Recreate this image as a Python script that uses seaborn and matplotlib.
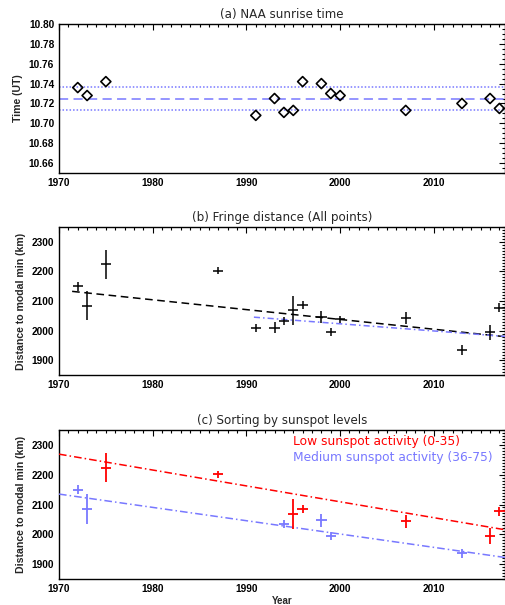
import matplotlib
matplotlib.use("Agg")
import matplotlib.pyplot as plt
from matplotlib.ticker import MultipleLocator
import seaborn as sns
import pandas as pd

# ---------------- data ----------------
years_a = [1972, 1973, 1975, 1991, 1993, 1994, 1995, 1996, 1998, 1999, 2000, 2007, 2013, 2016, 2017]
time_a = [10.736, 10.728, 10.742, 10.708, 10.725, 10.711, 10.713, 10.742, 10.740, 10.730, 10.728,
          10.713, 10.720, 10.725, 10.715]
naa_mean = 10.725
naa_upper = 10.737
naa_lower = 10.713

years_b = [1972, 1973, 1975, 1987, 1991, 1993, 1994, 1995, 1996, 1998, 1999, 2000, 2007, 2013, 2016, 2017]
dist_b = [2150, 2085, 2224, 2202, 2010, 2011, 2034, 2069, 2086, 2047, 1995, 2039, 2043, 1936, 1995, 2078]
err_b = [15, 50, 48, 12, 14, 20, 13, 50, 14, 21, 13, 11, 21, 16, 26, 15]

fit_all_years = [1971.4, 2017.65]
fit_all_vals = [2133, 1980]
fit_recent_years = [1990.8, 2017.65]
fit_recent_vals = [2046, 1981]

years_low = [1975, 1987, 1995, 1996, 2007, 2016, 2017]
dist_low = [2224, 2202, 2069, 2086, 2043, 1995, 2078]
err_low = [48, 12, 50, 14, 21, 26, 15]

years_med = [1972, 1973, 1994, 1998, 1999, 2013]
dist_med = [2150, 2085, 2034, 2047, 1995, 1936]
err_med = [15, 50, 13, 21, 13, 16]

fit_low_years = [1970, 2017.65]
fit_low_vals = [2269, 2015]
fit_med_years = [1970, 2017.65]
fit_med_vals = [2135, 1922]

xticks = [1970, 1980, 1990, 2000, 2010]
label_low = "Low sunspot activity (0-35)"
label_med = "Medium sunspot activity (36-75)"

# ---------------- style ----------------
sns.set_style("white")
plt.rcParams["font.family"] = ["Liberation Sans", "DejaVu Sans"]

RED = "#ff0000"
BLUE = "#7878ff"

fig = plt.figure(figsize=(5.06, 6.05), dpi=100)
W, H = 506.0, 605.0
left = 59 / W
width = 446.5 / W


def mk_axes(top, bottom):
    return fig.add_axes([left, (H - bottom) / H, width, (bottom - top) / H])


ax_a = mk_axes(24, 173)
ax_b = mk_axes(227, 375.3)
ax_c = mk_axes(430, 579)


def style_axes(ax, title):
    ax.set_xlim(1970, 2017.65)
    ax.set_xticks(xticks)
    ax.xaxis.set_minor_locator(MultipleLocator(1))
    ax.tick_params(which="both", direction="in", top=True, right=True,
                   labelsize=7.3, width=0.8, colors="black", pad=3.5)
    ax.tick_params(which="major", length=4)
    ax.tick_params(which="minor", length=2)
    for lab in ax.get_xticklabels() + ax.get_yticklabels():
        lab.set_fontweight("bold")
    for sp in ax.spines.values():
        sp.set_linewidth(1.0)
        sp.set_color("black")
        sp.set_visible(True)
    ax.set_title(title, fontsize=8.6, family="DejaVu Sans", pad=4)
    ax.grid(False)


# ---- panel a ----
df_a = pd.DataFrame({"year": years_a, "time": time_a})
ax_a.axhline(naa_mean, color=BLUE, lw=1.1, dashes=(6, 3.5))
ax_a.axhline(naa_upper, color=BLUE, lw=1.1, dashes=(1, 1.3))
ax_a.axhline(naa_lower, color=BLUE, lw=1.1, dashes=(1, 1.3))
sns.scatterplot(data=df_a, x="year", y="time", ax=ax_a, marker="D", s=26,
                facecolor="none", edgecolor="black", linewidth=1.2, zorder=5)
ax_a.set_ylim(10.65, 10.80)
ax_a.set_yticks([10.66, 10.68, 10.70, 10.72, 10.74, 10.76, 10.78, 10.80])
ax_a.set_yticklabels([f"{v:.2f}" for v in [10.66, 10.68, 10.70, 10.72, 10.74, 10.76, 10.78, 10.80]])
ax_a.yaxis.set_minor_locator(MultipleLocator(0.005))
ax_a.set_xlabel("")
ax_a.set_ylabel("Time (UT)", fontsize=7.6, fontweight="bold", labelpad=4)
style_axes(ax_a, "(a) NAA sunrise time")

# ---- panel b ----
df_b = pd.DataFrame({"year": years_b, "dist": dist_b, "err": err_b})
sns.lineplot(x=fit_all_years, y=fit_all_vals, ax=ax_b, color="black", lw=1.1,
             zorder=3).lines[-1].set_dashes((5, 3))
sns.lineplot(x=fit_recent_years, y=fit_recent_vals, ax=ax_b, color=BLUE, lw=1.1,
             zorder=3).lines[-1].set_dashes((4, 2, 1, 2))
ax_b.errorbar(df_b["year"], df_b["dist"], yerr=df_b["err"], xerr=0.55, fmt="none",
              ecolor="black", elinewidth=1.1, capsize=0, zorder=4)
ax_b.set_ylim(1850, 2350)
ax_b.set_yticks([1900, 2000, 2100, 2200, 2300])
ax_b.yaxis.set_minor_locator(MultipleLocator(10))
ax_b.set_xlabel("")
ax_b.set_ylabel("Distance to modal min (km)", fontsize=7.6, fontweight="bold", labelpad=4)
style_axes(ax_b, "(b) Fringe distance (All points)")

# ---- panel c ----
sns.lineplot(x=fit_low_years, y=fit_low_vals, ax=ax_c, color=RED, lw=1.1,
             zorder=3).lines[-1].set_dashes((5, 2, 1, 2))
sns.lineplot(x=fit_med_years, y=fit_med_vals, ax=ax_c, color=BLUE, lw=1.1,
             zorder=3).lines[-1].set_dashes((5, 2, 1, 2))
ax_c.errorbar(years_low, dist_low, yerr=err_low, xerr=0.55, fmt="none",
              ecolor=RED, elinewidth=1.3, capsize=0, zorder=4)
ax_c.errorbar(years_med, dist_med, yerr=err_med, xerr=0.55, fmt="none",
              ecolor=BLUE, elinewidth=1.3, capsize=0, zorder=4)
ax_c.set_ylim(1850, 2350)
ax_c.set_yticks([1900, 2000, 2100, 2200, 2300])
ax_c.yaxis.set_minor_locator(MultipleLocator(10))
ax_c.set_xlabel("Year", fontsize=7.0, fontweight="bold", labelpad=1.5)
ax_c.set_ylabel("Distance to modal min (km)", fontsize=7.6, fontweight="bold", labelpad=4)
style_axes(ax_c, "(c) Sorting by sunspot levels")
ax_c.text(0.524, 0.922, label_low, transform=ax_c.transAxes, color=RED,
          fontsize=8.8, family="DejaVu Sans", va="center", ha="left", clip_on=False)
ax_c.text(0.524, 0.818, label_med, transform=ax_c.transAxes, color=BLUE,
          fontsize=8.8, family="DejaVu Sans", va="center", ha="left", clip_on=False)

fig.savefig("out.png", dpi=100)
